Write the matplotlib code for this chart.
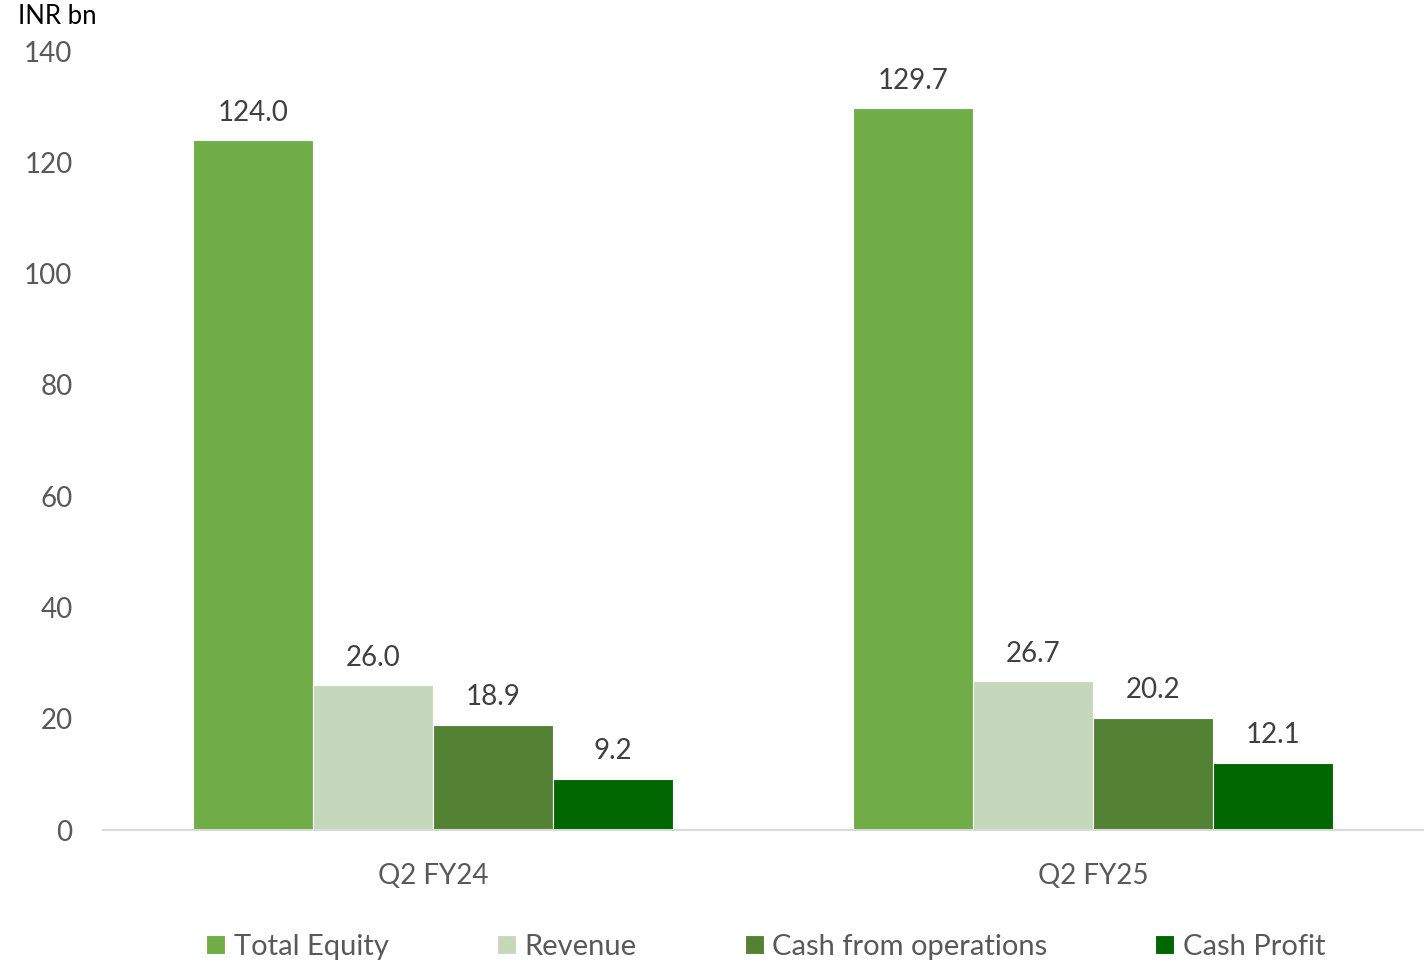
import numpy as np
import matplotlib.pyplot as plt

plt.rcParams['font.family'] = ['Lato', 'DejaVu Sans']

periods = ["Q2 FY24", "Q2 FY25"]
series = ["Total Equity", "Revenue", "Cash from operations", "Cash Profit"]
total_equity = [124.0, 129.7]
revenue = [26.0, 26.7]
cash_from_ops = [18.9, 20.2]
cash_profit = [9.2, 12.1]
colors = ["#70AD47", "#C5D8BC", "#548235", "#006600"]

fig = plt.figure(figsize=(14.27, 9.63), dpi=100)
ax = fig.add_axes([103 / 1427, 1 - 830 / 963, 1320 / 1427, 779 / 963])

x = np.arange(len(periods))
w = 0.1818
values = [total_equity, revenue, cash_from_ops, cash_profit]
for i, (name, vals, c) in enumerate(zip(series, values, colors)):
    pos = x + (i - 1.5) * w
    ax.bar(pos, vals, width=w, color=c, edgecolor="white", linewidth=0.8, label=name)
    for p, v in zip(pos, vals):
        ax.text(p, v + 2.6, f"{v:.1f}", ha="center", va="bottom",
                fontsize=20, color="#404040")

ax.set_xlim(-0.5, 1.5)
ax.set_ylim(0, 140)
ax.set_yticks(range(0, 141, 20))
ax.set_xticks(x)
ax.set_xticklabels(periods)
ax.tick_params(axis="y", length=0, labelsize=20, labelcolor="#595959", pad=22)
ax.tick_params(axis="x", length=0, labelsize=20, labelcolor="#595959", pad=24)
for s in ["top", "right", "left"]:
    ax.spines[s].set_visible(False)
ax.spines["bottom"].set_color("#D9D9D9")
ax.spines["bottom"].set_linewidth(1.5)

fig.text(18 / 1427, 1 - 17 / 963, "INR bn", fontsize=18.5, color="black",
         ha="left", va="center")

leg = fig.legend(loc="center", bbox_to_anchor=(766 / 1427, 1 - 947 / 963), ncol=4,
                 frameon=False, fontsize=21, handlelength=0.65, handleheight=0.65,
                 handletextpad=0.3, columnspacing=3.7)
for t in leg.get_texts():
    t.set_color("#595959")

plt.savefig("out.png", dpi=100)
plt.close(fig)
